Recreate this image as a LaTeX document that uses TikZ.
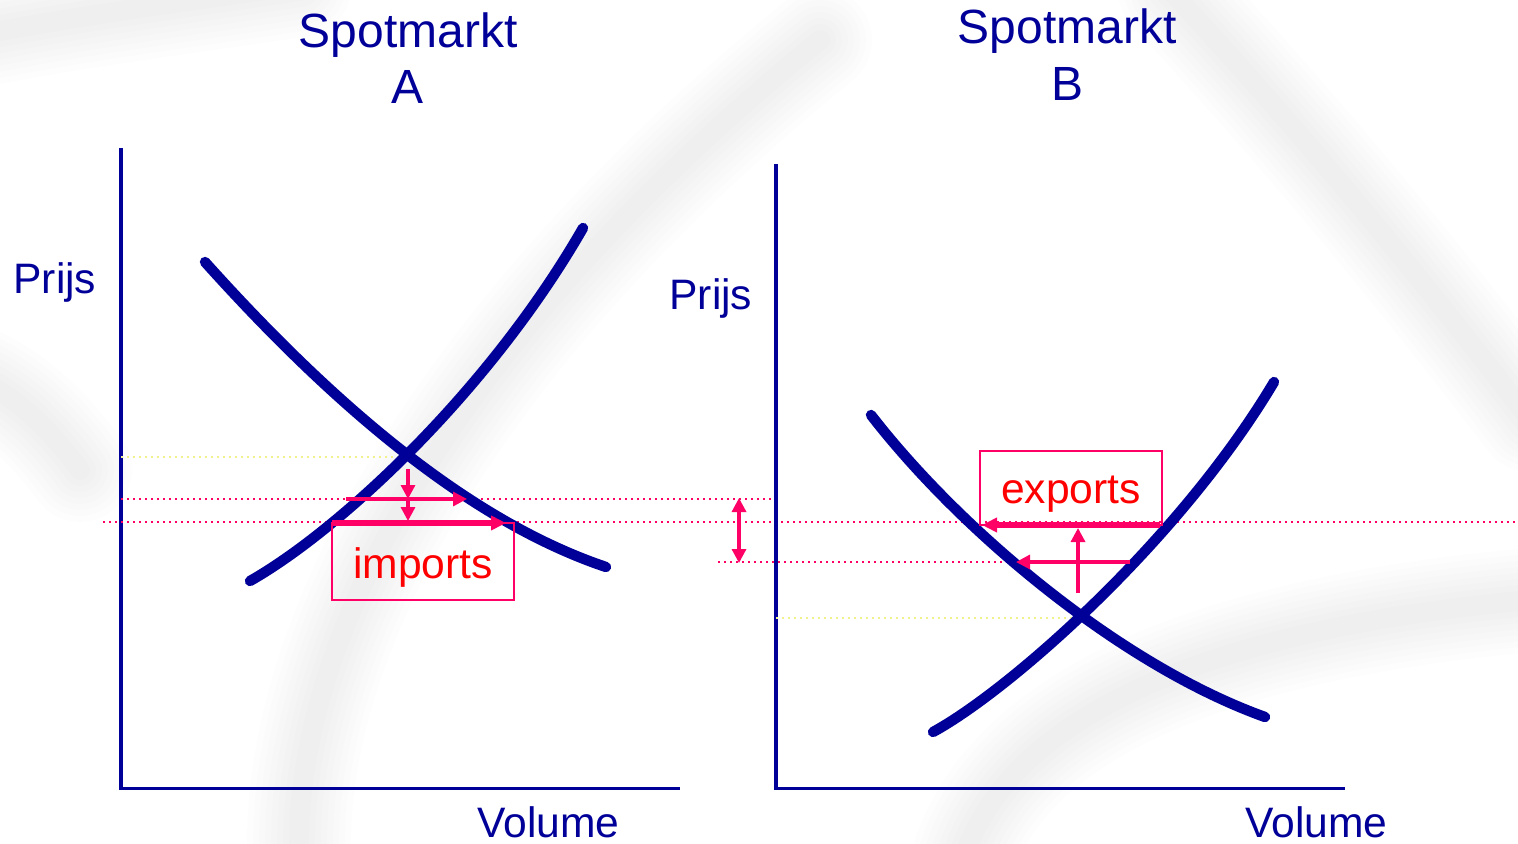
\documentclass[tikz,border=0pt]{standalone}
\usepackage{fontspec}
\setmainfont{Liberation Sans}
\usetikzlibrary{arrows.meta}

\definecolor{axisblue}{HTML}{000099}
\definecolor{marketpink}{HTML}{FF0066}
\definecolor{labelred}{HTML}{FF0000}
\definecolor{eqyellow}{HTML}{F2F28C}

\tikzset{
  haze/.style={draw=black, line cap=round, opacity=0.008},
  axis/.style={draw=axisblue, line width=2pt},
  baseaxis/.style={draw=axisblue, line width=1.5pt},
  curve/.style={draw=axisblue, line width=5.2pt, line cap=round},
  guide/.style={draw=marketpink, line width=1pt, dotted},
  eqguide/.style={draw=eqyellow, line width=1pt, dotted},
  pricearrow/.style={draw=marketpink, line width=1.6pt, -{Triangle[length=7pt,width=7pt]}},
  bigarrow/.style={draw=marketpink, line width=2.6pt, -{Triangle[length=7.5pt,width=7pt]}},
  title/.style={text=axisblue, font=\fontsize{24}{28}\selectfont, anchor=base, inner sep=0pt},
  axlabel/.style={text=axisblue, font=\fontsize{21.3}{25}\selectfont, anchor=base west, inner sep=0pt},
  tradebox/.style={draw=marketpink, line width=1.25pt, text=labelred,
    font=\fontsize{21.3}{25}\selectfont, inner sep=0pt, text depth=0pt}
}

% soft grey band built from stacked translucent strokes
\newcommand{\softband}[1]{%
  \foreach \w in {52,46,40,34,28,22,16,10}{\path[haze, line width=\w pt] #1;}}

\begin{document}
\begin{tikzpicture}[x=0.5pt, y=-0.5pt]
\useasboundingbox (0,0) rectangle (1518,844);

% faint swirls of the slide background
\softband{(-20,35) .. controls (80,15) and (200,0) .. (300,-15)}
\softband{(300,870) .. controls (285,650) and (450,340) .. (820,40)}
\softband{(1170,-10) .. controls (1290,120) and (1400,250) .. (1530,420)}
\softband{(-20,380) .. controls (20,400) and (50,430) .. (80,470)}
\softband{(960,870) .. controls (1000,720) and (1200,630) .. (1530,600)}

% ---------- market A ----------
\coordinate (A-origin) at (121,788);
\coordinate (A-top) at (121,148);
\coordinate (A-end) at (680,788);
\draw[axis] (A-top) -- (121,790);
\draw[baseaxis] (119,788) -- (A-end);

\node[title] (A-title1) at (408,48) {Spotmarkt};
\node[title] (A-title2) at (408,104) {A};
\node[axlabel] (A-price) at (13,293) {Prijs};
\node[axlabel] (A-volume) at (477,837) {Volume};

\coordinate (A-eq) at (408,457);
\coordinate (A-eqaxis) at (121,457);
\draw[eqguide] (A-eqaxis) -- (A-eq);

% price levels shared by both markets
\coordinate (P1-left) at (121,499);
\coordinate (P1-right) at (776,499);
\coordinate (P2-left) at (103,522);
\coordinate (P2-right) at (1518,522);
\coordinate (P3-left) at (718,562);
\coordinate (P3-right) at (1010,562);
\draw[guide] (P1-left) -- (P1-right);
\draw[guide] (P2-left) -- (P2-right);
\draw[guide] (P3-left) -- (P3-right);

% demand and supply A
\coordinate (A-d1) at (205,262);
\coordinate (A-d2) at (606,567);
\coordinate (A-s1) at (250,581);
\coordinate (A-s2) at (583,228);
\draw[curve] (A-d1) .. controls (320,390) and (460,518) .. (A-d2);
\draw[curve] (A-s1) .. controls (340,530) and (490,390) .. (A-s2);

% imports box and price shifts
\node[tradebox, minimum width=91pt, minimum height=38.5pt, text height=16.5pt]
  (imports) at (423,561.5) {imports};
\coordinate (A-down-start) at (408,469);
\coordinate (A-down-mid) at (408,499);
\coordinate (A-down-end) at (408,521);
\draw[pricearrow] (A-down-start) -- (A-down-mid);
\draw[pricearrow] (A-down-mid) -- (A-down-end);
\coordinate (A-q1a) at (346,499);
\coordinate (A-q1b) at (467,499);
\draw[pricearrow] (A-q1a) -- (A-q1b);
\coordinate (A-q2a) at (332,523);
\coordinate (A-q2b) at (506,523);
\draw[bigarrow] (A-q2a) -- (A-q2b);

% ---------- market B ----------
\coordinate (B-origin) at (776,788);
\coordinate (B-top) at (776,164);
\coordinate (B-end) at (1345,788);
\draw[axis] (B-top) -- (776,790);
\draw[baseaxis] (774,788) -- (B-end);

\node[title] (B-title1) at (1067,44) {Spotmarkt};
\node[title] (B-title2) at (1067,101) {B};
\node[axlabel] (B-price) at (669,309) {Prijs};
\node[axlabel] (B-volume) at (1245,837) {Volume};

\coordinate (B-eq) at (1083,618);
\coordinate (B-eqaxis) at (776,618);
\draw[eqguide] (B-eqaxis) -- (B-eq);

% demand and supply B
\coordinate (B-d1) at (871,415);
\coordinate (B-d2) at (1265,717);
\coordinate (B-s1) at (933,732);
\coordinate (B-s2) at (1274,382);
\draw[curve] (B-d1) .. controls (960,530) and (1120,665) .. (B-d2);
\draw[curve] (B-s1) .. controls (1010,690) and (1180,540) .. (B-s2);

% exports box and price shifts
\node[tradebox, minimum width=91pt, minimum height=37pt, text height=15pt]
  (exports) at (1071,488) {exports};
\coordinate (B-q2a) at (1160,525);
\coordinate (B-q2b) at (982,525);
\draw[bigarrow] (B-q2a) -- (B-q2b);
\coordinate (B-up-start) at (1078,593);
\coordinate (B-up-end) at (1078,528);
\draw[pricearrow] (B-up-start) -- (B-up-end);
\coordinate (B-q1a) at (1130,562);
\coordinate (B-q1b) at (1016,562);
\draw[pricearrow] (B-q1a) -- (B-q1b);

% price gap between the markets
\coordinate (gap-top) at (739,498);
\coordinate (gap-bottom) at (739,563);
\draw[pricearrow, {Triangle[length=7pt,width=7pt]}-{Triangle[length=7pt,width=7pt]}] (gap-top) -- (gap-bottom);
\end{tikzpicture}
\end{document}
